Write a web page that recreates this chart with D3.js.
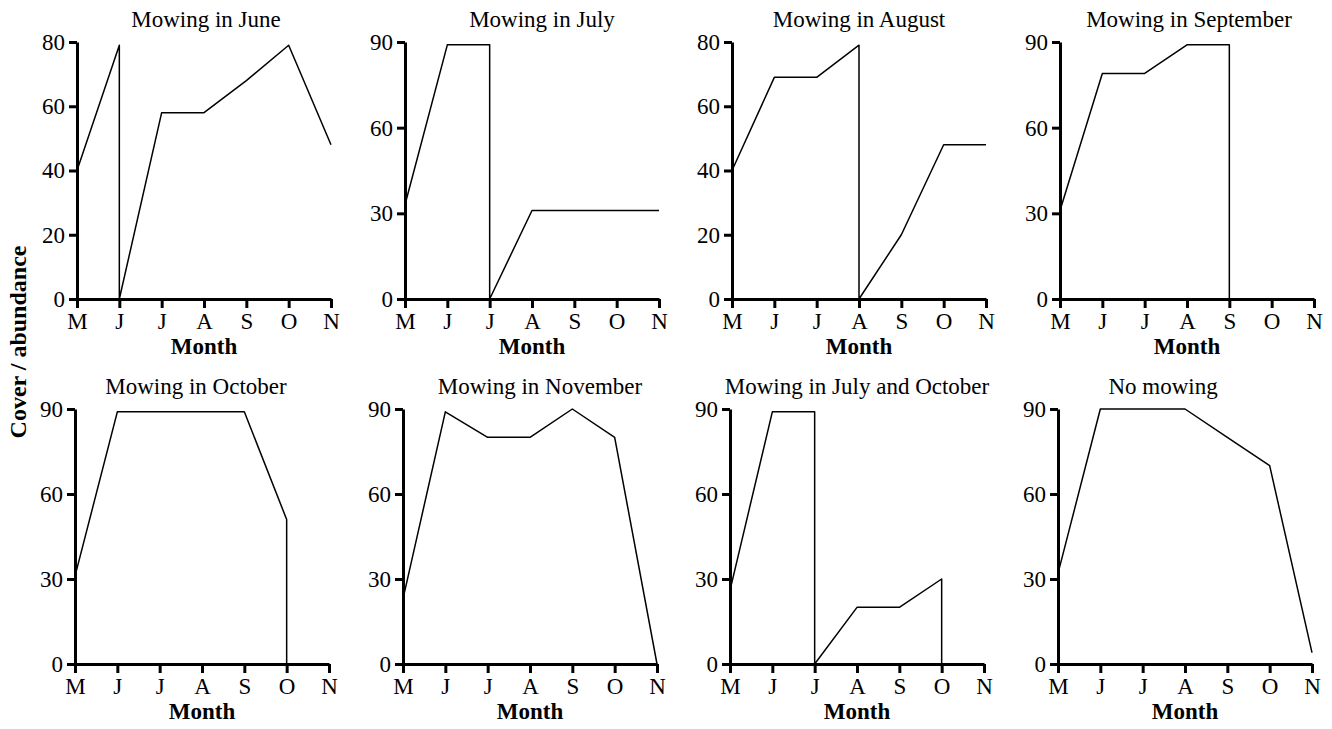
<!DOCTYPE html>
<html lang="en">
<head>
<meta charset="UTF-8">
<title>Cover / abundance under mowing regimes</title>
<script src="https://d3js.org/d3.v7.min.js"></script>
<style>
  body { margin: 0; background: #fff; }
  svg { display: block; font-family: "Liberation Serif", "Times New Roman", serif; }
  .title { font-size: 23px; }
  .xlabel { font-size: 23px; font-weight: bold; }
  .ylabel { font-size: 24px; font-weight: bold; }
  .axis text { font-family: "Liberation Serif", "Times New Roman", serif; font-size: 23px; fill: #000; }
  .axis path, .axis line { stroke: #000; stroke-width: 3; }
  .series { fill: none; stroke: #000; stroke-width: 1.5; stroke-linejoin: round; }
</style>
</head>
<body>
<div id="chart"></div>
<script>
// month tick labels (May .. November)
const months = ["M", "J", "J", "A", "S", "O", "N"];

const titles = [
  "Mowing in June", "Mowing in July", "Mowing in August", "Mowing in September",
  "Mowing in October", "Mowing in November", "Mowing in July and October", "No mowing"
];

const yMax = [80, 90, 80, 90, 90, 90, 90, 90];
const ticks80 = [0, 20, 40, 60, 80];
const ticks90 = [0, 30, 60, 90];

// [month index, cover] in drawing order; a repeated index is the cut at mowing
const juneMow = [[0, 40], [1, 79], [1, 0], [2, 58], [3, 58], [4, 68], [5, 79], [6, 48]];
const julyMow = [[0, 33], [1, 89], [2, 89], [2, 0], [3, 31], [4, 31], [5, 31], [6, 31]];
const augustMow = [[0, 40], [1, 69], [2, 69], [3, 79], [3, 0], [4, 20], [5, 48], [6, 48]];
const septemberMow = [[0, 31], [1, 79], [2, 79], [3, 89], [4, 89], [4, 0]];
const octoberMow = [[0, 31], [1, 89], [2, 89], [3, 89], [4, 89], [5, 51], [5, 0]];
const novemberMow = [[0, 23], [1, 89], [2, 80], [3, 80], [4, 90], [5, 80], [6, 0]];
const julyOctoberMow = [[0, 26], [1, 89], [2, 89], [2, 0], [3, 20], [4, 20], [5, 30], [5, 0]];
const noMow = [[0, 32], [1, 90], [2, 90], [3, 90], [4, 80], [5, 70], [6, 4]];

const seriesList = [juneMow, julyMow, augustMow, septemberMow,
                    octoberMow, novemberMow, julyOctoberMow, noMow];

// layout of the 2 x 4 grid
const W = 1332, H = 729;
const colLeft = [77, 405, 732, 1060];
const plotW = 254;
const rowTop = [42, 409];
const rowBottom = [299, 664];
const titleShift = [2, 10, 0, 2, -6, 10, 0, -22];

const svg = d3.select("#chart").append("svg")
  .attr("width", W)
  .attr("height", H);

seriesList.forEach((series, i) => {
  const col = i % 4, row = Math.floor(i / 4);
  const x0 = colLeft[col] - (row === 1 ? 2 : 0);

  const x = d3.scaleLinear().domain([0, 6]).range([x0, x0 + plotW]);
  const y = d3.scaleLinear().domain([0, yMax[i]]).range([rowBottom[row], rowTop[row]]);

  const g = svg.append("g");

  // data line
  g.append("path")
    .datum(series)
    .attr("class", "series")
    .attr("d", d3.line().x(d => x(d[0])).y(d => y(d[1])));

  const xAxis = g.append("g")
    .attr("class", "axis")
    .attr("transform", `translate(0,${rowBottom[row]})`)
    .call(d3.axisBottom(x)
      .tickValues(d3.range(7))
      .tickFormat(d => months[d])
      .tickSize(9)
      .tickSizeOuter(0)
      .tickPadding(5));

  const yAxis = g.append("g")
    .attr("class", "axis")
    .attr("transform", `translate(${x0},0)`)
    .call(d3.axisLeft(y)
      .tickValues(yMax[i] === 80 ? ticks80 : ticks90)
      .tickSize(8)
      .tickSizeOuter(0)
      .tickPadding(4));

  [xAxis, yAxis].forEach(a => a.attr("font-family", null).attr("font-size", null));

  g.append("text")
    .attr("class", "title")
    .attr("x", x0 + plotW / 2 + titleShift[i])
    .attr("y", rowTop[row] - 15)
    .attr("text-anchor", "middle")
    .text(titles[i]);

  g.append("text")
    .attr("class", "xlabel")
    .attr("x", x0 + plotW / 2)
    .attr("y", rowBottom[row] + 55)
    .attr("text-anchor", "middle")
    .text("Month");
});

svg.append("text")
  .attr("class", "ylabel")
  .attr("transform", "translate(26,342) rotate(-90)")
  .attr("text-anchor", "middle")
  .text("Cover / abundance");
</script>
</body>
</html>
